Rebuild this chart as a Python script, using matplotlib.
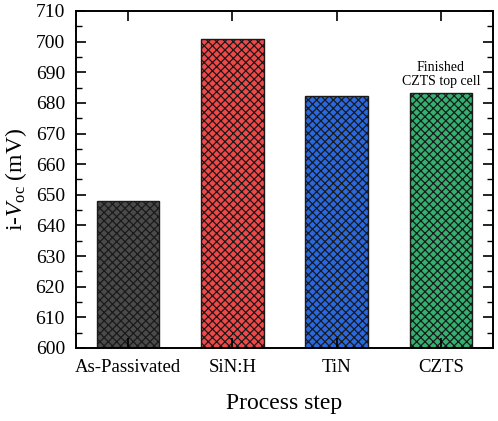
import matplotlib.pyplot as plt
from matplotlib.ticker import MultipleLocator

plt.rcParams['font.family'] = ['Liberation Serif', 'DejaVu Serif']
plt.rcParams['mathtext.fontset'] = 'custom'
plt.rcParams['mathtext.rm'] = 'Liberation Serif'
plt.rcParams['mathtext.it'] = 'Liberation Serif:italic'
plt.rcParams['hatch.linewidth'] = 0.9

steps = ['As-Passivated', 'SiN:H', 'TiN', 'CZTS']
voc = [648.0, 700.8, 682.3, 683.3]
colors = ['#4a4a4a', '#f04848', '#2a68e0', '#34b070']
note = 'Finished\nCZTS top cell'

fig = plt.figure(figsize=(4.98, 4.21), dpi=100)
ax = fig.add_axes([0.1526, 0.1734, 0.8374, 0.8005])

x = range(len(steps))
ax.bar(x, voc, width=0.6, color=colors, edgecolor='#1a1a1a', linewidth=1.0, hatch='xxxx')

ax.set_xlim(-0.5, 3.5)
ax.set_ylim(600, 710)
ax.set_xticks(list(x))
ax.set_xticklabels(steps)
ax.yaxis.set_major_locator(MultipleLocator(10))
ax.yaxis.set_minor_locator(MultipleLocator(5))
ax.tick_params(axis='y', which='both', direction='in', left=True, right=True, labelsize=14, pad=8)
ax.tick_params(axis='y', which='major', length=7, width=1.2)
ax.tick_params(axis='y', which='minor', length=4, width=1.0)
ax.tick_params(axis='x', direction='in', top=True, bottom=True, length=7, width=1.2, labelsize=13.5, pad=8)
for s in ax.spines.values():
    s.set_linewidth(1.4)

ax.text(3, voc[3] + 1.6, note, ha='center', va='bottom', fontsize=10, linespacing=1.1)

ax.set_ylabel(r'i-$V_{\mathrm{oc}}$ (mV)', fontsize=17, labelpad=5)
ax.set_xlabel('Process step', fontsize=17, labelpad=12)

fig.savefig('out.png', dpi=100)
